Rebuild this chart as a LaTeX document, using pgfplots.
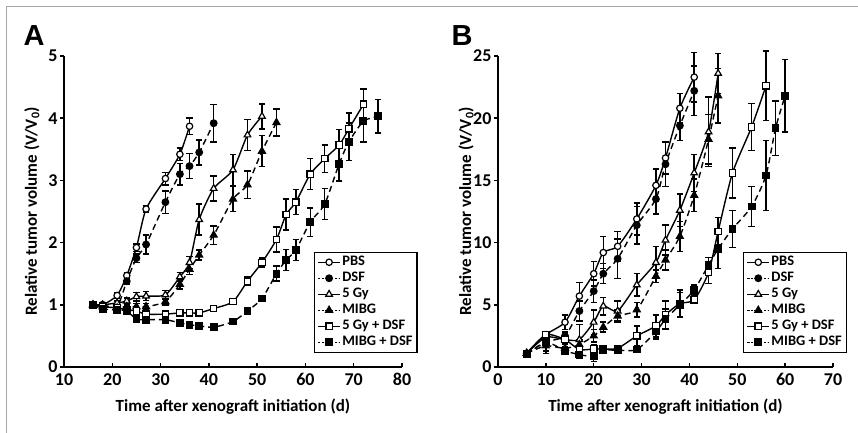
\documentclass[border=0pt]{standalone}
\usepackage{fontspec}
\setmainfont{Carlito}
\newfontfamily\letterfont{Liberation Sans}
\usepackage{pgfplots}
\usepackage{pgfplotstable}
\pgfplotsset{compat=1.18}

% panel A: day, V/V0, error
\pgfplotstableread{
x y e
16 1.00 0.03
18 1.00 0.03
21 1.15 0.04
23 1.47 0.05
25 1.92 0.06
27 2.54 0.05
31 3.03 0.10
34 3.42 0.10
36 3.87 0.13
}\pbsA
\pgfplotstableread{
x y e
16 1.00 0.03
18 1.00 0.03
21 0.97 0.03
23 1.38 0.05
25 1.75 0.07
27 1.97 0.15
31 2.65 0.18
34 3.10 0.17
36 3.23 0.20
38 3.45 0.20
41 3.92 0.30
}\dsfA
\pgfplotstableread{
x y e
16 1.00 0.03
18 1.00 0.03
21 1.03 0.03
23 1.06 0.05
25 1.13 0.07
27 1.14 0.07
31 1.16 0.07
34 1.45 0.07
36 1.68 0.10
38 2.37 0.25
41 2.87 0.20
45 3.17 0.25
48 3.73 0.25
51 4.03 0.20
}\gyA
\pgfplotstableread{
x y e
16 1.00 0.03
18 0.97 0.03
21 0.95 0.03
23 0.97 0.03
25 0.97 0.05
27 0.97 0.05
31 1.05 0.05
34 1.33 0.08
36 1.57 0.08
38 1.80 0.08
41 2.12 0.15
45 2.70 0.20
48 2.93 0.22
51 3.47 0.25
54 3.93 0.22
}\mibgA
\pgfplotstableread{
x y e
16 1.00 0.03
18 0.97 0.03
21 0.95 0.03
23 0.92 0.03
25 0.90 0.03
27 0.85 0.03
31 0.85 0.03
34 0.87 0.03
36 0.87 0.03
38 0.87 0.03
41 0.94 0.03
45 1.05 0.03
48 1.38 0.07
51 1.68 0.07
54 2.05 0.20
56 2.45 0.25
58 2.65 0.20
61 3.10 0.25
64 3.35 0.22
67 3.57 0.25
69 3.83 0.25
72 4.22 0.25
}\gydsfA
\pgfplotstableread{
x y e
16 1.00 0.03
18 0.93 0.03
21 0.92 0.03
23 0.90 0.03
25 0.77 0.03
27 0.76 0.03
31 0.76 0.03
34 0.71 0.03
36 0.68 0.03
38 0.66 0.03
41 0.64 0.03
45 0.73 0.03
48 0.90 0.04
51 1.10 0.05
54 1.50 0.12
56 1.72 0.17
58 1.88 0.17
61 2.33 0.23
64 2.62 0.25
67 3.27 0.28
69 3.62 0.30
72 3.95 0.33
75 4.03 0.27
}\mibgdsfA

% panel B
\pgfplotstableread{
x y e
6 1.1 0.1
10 2.6 0.2
14 3.6 0.6
17 5.7 1.1
20 7.5 1.0
22 9.2 1.3
25 9.7 1.2
29 11.9 1.3
33 14.6 1.3
35 16.8 1.3
38 20.8 1.2
41 23.3 2.0
}\pbsB
\pgfplotstableread{
x y e
6 1.1 0.1
10 2.0 0.7
14 2.5 0.3
17 4.5 0.8
20 6.1 0.9
22 7.5 0.8
25 8.7 1.6
29 11.4 1.5
33 13.5 1.2
35 16.3 1.8
38 19.4 1.2
41 22.2 2.0
}\dsfB
\pgfplotstableread{
x y e
6 1.1 0.1
10 2.4 0.3
14 2.2 0.3
17 2.2 1.2
20 3.6 1.0
22 4.9 0.7
25 4.5 0.8
29 6.6 0.9
33 8.4 1.3
35 10.2 1.2
38 12.6 1.3
41 15.6 1.5
44 18.9 2.8
46 23.6 1.6
}\gyB
\pgfplotstableread{
x y e
6 1.1 0.1
10 1.7 0.6
14 1.5 0.3
17 1.8 0.4
20 2.5 0.5
22 3.2 0.4
25 4.1 0.5
29 4.6 0.6
33 7.3 0.5
35 8.6 0.8
38 10.5 1.2
41 13.8 1.3
44 18.3 2.0
46 21.8 2.2
}\mibgB
\pgfplotstableread{
x y e
6 1.1 0.1
10 2.6 0.2
14 2.2 0.4
17 1.4 0.3
20 1.45 0.3
22 1.45 0.2
25 1.5 0.2
29 2.5 0.8
33 3.3 0.9
35 4.2 1.1
38 5.1 1.1
41 5.4 0.3
44 7.6 0.9
46 10.9 1.1
49 15.6 2.0
53 19.3 1.9
56 22.6 2.8
}\gydsfB
\pgfplotstableread{
x y e
6 1.0 0.1
10 2.0 0.3
14 1.3 0.3
17 1.0 0.3
20 0.85 0.4
22 1.35 0.2
25 1.35 0.2
29 1.4 0.2
33 2.85 0.6
35 3.85 0.8
38 5.0 1.0
41 6.2 0.4
44 8.2 0.6
46 9.5 1.6
49 11.1 1.5
53 12.9 1.6
56 15.4 2.8
58 19.2 2.2
60 21.8 2.9
}\mibgdsfB

\pgfplotsset{
  panel/.style={
    scale only axis, height=311pt, anchor=south west, clip=false,
    axis x line*=bottom, axis y line*=left,
    axis line style={line width=1.5pt, -},
    tick style={black, line width=1.5pt},
    tick align=inside, major tick length=4pt,
    ytick style={xshift=-4pt},
    /pgf/number format/assume math mode=true,
    ticklabel style={font=\fontsize{18}{20}\selectfont\bfseries},
    yticklabel style={xshift=-3pt},
    xticklabel style={yshift=-3pt},
    label style={font=\fontsize{17}{19}\selectfont\bfseries},
    xlabel={Time after xenograft initiation (d)},
    ylabel={Relative tumor volume (V/V\textsubscript{0})},
    xlabel style={at={(axis description cs:0.5,-0.129)}, anchor=center},
    ylabel style={at={(axis description cs:-0.095,0.5)}, anchor=center},
    legend cell align=left,
    legend style={anchor=south east, draw=black, line width=1.5pt, fill=white,
      font=\fontsize{14.5}{16}\selectfont\bfseries, inner xsep=3pt, inner ysep=2pt,
      nodes={inner sep=1.5pt, text height=10pt, text depth=3pt}},
    legend image code/.code={\draw[mark repeat=2,mark phase=2,#1]
      plot coordinates {(0pt,0pt) (11pt,0pt) (22pt,0pt)};},
  },
  open/.style={solid, line width=1.4pt, smooth, tension=0.4,
    mark options={solid, fill=white, line width=1.2pt}},
  filled/.style={dash pattern=on 6pt off 4pt, line width=1.4pt, smooth, tension=0.4,
    mark options={solid, fill=black},
    legend image post style={dash pattern=on 1.4pt off 2pt}},
  errs/.style={error bars/y dir=both, error bars/y explicit,
    error bars/error bar style={line width=1.5pt, solid},
    error bars/error mark options={rotate=90, mark size=3.2pt, line width=1.5pt, solid}},
}

\begin{document}
\begin{tikzpicture}[x=1pt,y=1pt]
\path[use as bounding box] (0,0) rectangle (858,433);
\draw[black!35, line width=1pt] (6,0) -- (6,426.5) -- (858,426.5);
\node[font=\fontsize{29}{30}\selectfont\bfseries\letterfont] at (34,397.5) {A};
\node[font=\fontsize{29}{30}\selectfont\bfseries\letterfont] at (462,397.5) {B};

\begin{axis}[panel, at={(64pt,66pt)}, width=338pt,
  xmin=10, xmax=80, ymin=0, ymax=5,
  xtick={10,20,...,80}, ytick={0,1,...,5},
  legend style={at={(1.047,0.045)}}]
\addplot[open, errs, mark=*, mark size=3.2pt] table[x=x, y=y, y error=e] {\pbsA};
\addlegendentry{PBS}
\addplot[filled, errs, mark=*, mark size=3.2pt] table[x=x, y=y, y error=e] {\dsfA};
\addlegendentry{DSF}
\addplot[open, errs, mark=triangle*, mark size=3.8pt] table[x=x, y=y, y error=e] {\gyA};
\addlegendentry{5 Gy}
\addplot[filled, errs, mark=triangle*, mark size=3.8pt] table[x=x, y=y, y error=e] {\mibgA};
\addlegendentry{MIBG}
\addplot[open, errs, mark=square*, mark size=3.2pt] table[x=x, y=y, y error=e] {\gydsfA};
\addlegendentry{5 Gy + DSF}
\addplot[filled, errs, mark=square*, mark size=3.2pt] table[x=x, y=y, y error=e] {\mibgdsfA};
\addlegendentry{MIBG + DSF}
\end{axis}

\begin{axis}[panel, at={(498pt,66pt)}, width=335pt,
  xmin=0, xmax=70, ymin=0, ymax=25,
  xtick={0,10,...,70}, ytick={0,5,...,25},
  legend style={at={(1.042,0.045)}}]
\addplot[open, errs, mark=*, mark size=3.2pt] table[x=x, y=y, y error=e] {\pbsB};
\addlegendentry{PBS}
\addplot[filled, errs, mark=*, mark size=3.2pt] table[x=x, y=y, y error=e] {\dsfB};
\addlegendentry{DSF}
\addplot[open, errs, mark=triangle*, mark size=3.8pt] table[x=x, y=y, y error=e] {\gyB};
\addlegendentry{5 Gy}
\addplot[filled, errs, mark=triangle*, mark size=3.8pt] table[x=x, y=y, y error=e] {\mibgB};
\addlegendentry{MIBG}
\addplot[open, errs, mark=square*, mark size=3.2pt] table[x=x, y=y, y error=e] {\gydsfB};
\addlegendentry{5 Gy + DSF}
\addplot[filled, errs, mark=square*, mark size=3.2pt] table[x=x, y=y, y error=e] {\mibgdsfB};
\addlegendentry{MIBG + DSF}
\end{axis}
\end{tikzpicture}
\end{document}
